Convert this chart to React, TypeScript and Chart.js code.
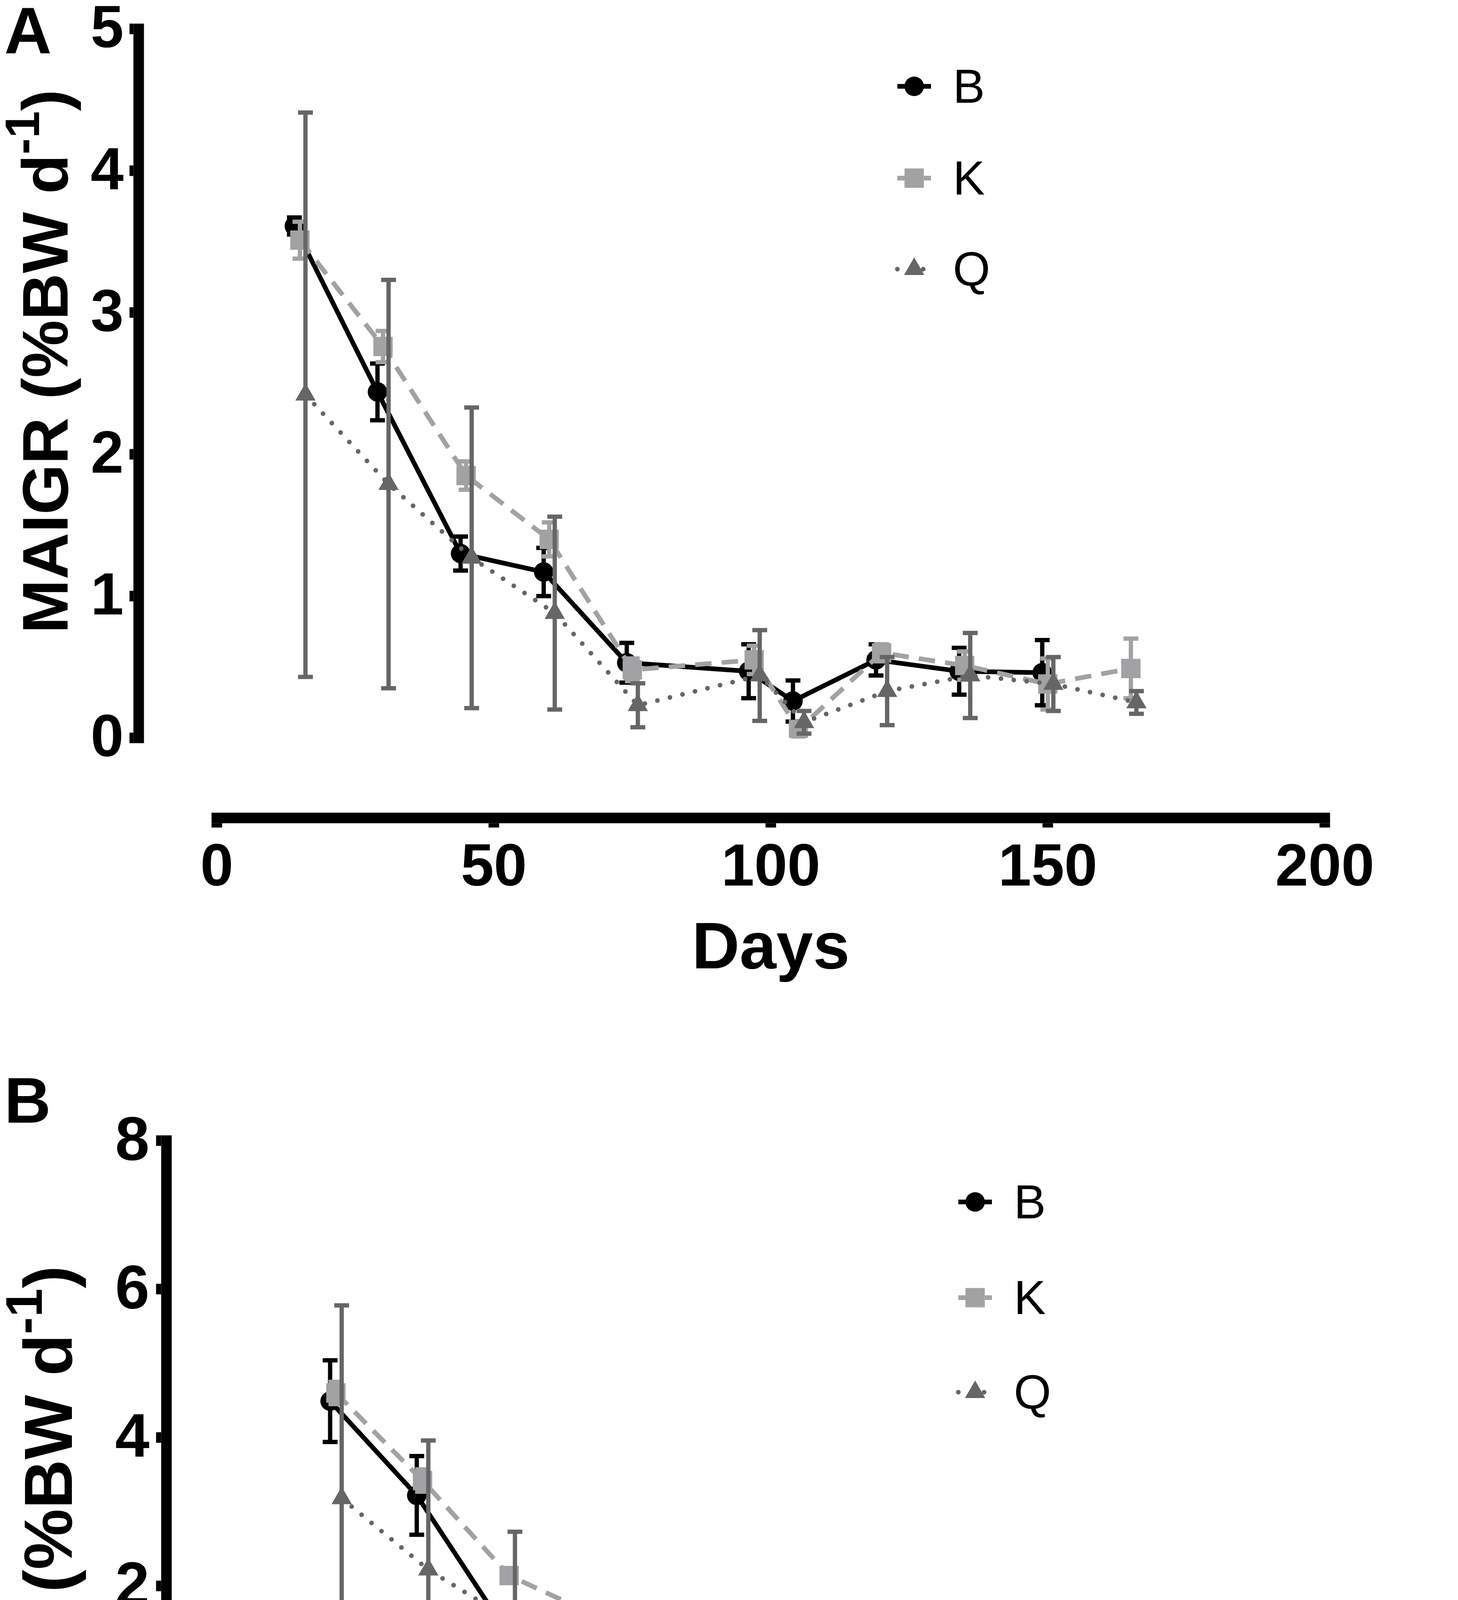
import React, { useEffect, useRef } from "react";
import { Chart, registerables } from "chart.js";

Chart.register(...registerables);

// ---------------- DATA ----------------
// Panel A : MAIGR (%BW d-1)
const A_DAYS_B = [14, 29, 44, 59, 74, 96, 104, 119, 134, 149];
const A_MEAN_B = [3.61, 2.44, 1.3, 1.17, 0.53, 0.47, 0.26, 0.55, 0.47, 0.46];
const A_ERR_B = [0.06, 0.2, 0.12, 0.17, 0.14, 0.19, 0.145, 0.11, 0.165, 0.23];

const A_DAYS_K = [15, 30, 45, 60, 75, 97, 105, 120, 135, 150, 165];
const A_MEAN_K = [3.51, 2.76, 1.85, 1.4, 0.48, 0.55, 0.06, 0.6, 0.51, 0.38, 0.49];
const A_ERR_K = [0.13, 0.11, 0.1, 0.12, 0.08, 0.1, 0.05, 0.06, 0.1, 0.18, 0.21];

const A_DAYS_Q = [16, 31, 46, 61, 76, 98, 106, 121, 136, 151, 166];
const A_MEAN_Q = [2.42, 1.79, 1.27, 0.88, 0.23, 0.44, 0.11, 0.33, 0.44, 0.38, 0.25];
const A_ERR_Q = [1.99, 1.44, 1.06, 0.68, 0.155, 0.32, 0.08, 0.24, 0.3, 0.19, 0.08];

// Panel B : B% (%BW d-1)
const B_DAYS_B = [14, 29, 44, 59, 74, 96, 104, 119, 134, 149];
const B_MEAN_B = [4.49, 3.22, 1.45, 1.29, 0.26, 0.02, -0.1, -0.13, 0.52, -0.13];
const B_ERR_B = [0.55, 0.53, 0.15, 0.2, 0.12, 0.55, 0.34, 0.55, 0.15, 0.45];

const B_DAYS_K = [15, 30, 45, 60, 75, 97, 105, 120, 135, 150, 165];
const B_MEAN_K = [4.6, 3.42, 2.14, 1.6, 0.5, 0.55, 0.05, 0.52, 0.28, 0.4, 0.54];
const B_ERR_K = [0.15, 0.15, 0.1, 0.1, 0.08, 0.1, 0.1, 0.08, 0.25, 0.15, 0.19];

const B_DAYS_Q = [16, 31, 46, 61, 76, 98, 106, 121, 136, 151, 166];
const B_MEAN_Q = [3.18, 2.22, 1.5, 0.96, 0.2, 0.42, 0.1, 0.37, 0.52, 0.4, 0.27];
const B_ERR_Q = [2.6, 1.74, 1.23, 0.72, 0.19, 0.36, 0.06, 0.24, 0.22, 0.2, 0.05];

// Axis ticks / labels
const A_X_TICKS = [0, 50, 100, 150, 200];
const A_Y_TICKS = [0, 1, 2, 3, 4, 5];
const B_X_TICKS = [50, 100, 150, 200];
const B_Y_TICKS = [-2, 0, 2, 4, 6, 8];

const SERIES_NAMES = ["B", "K", "Q"];
const X_TITLE = "Days";
const A_Y_TITLE = ["MAIGR (%BW d", "-1", ")"];
const B_Y_TITLE = ["B% (%BW d", "-1", ")"];

// ---------------- STYLES ----------------
const FONT = "'Liberation Sans', Arial, Helvetica, sans-serif";
const STYLE: Record<string, any> = {
  B: { color: "#000000", dash: [], cap: "butt", point: "circle", r: 25, order: 2 },
  K: { color: "#a2a2a5", dash: [42, 26], cap: "butt", point: "rect", r: 35, order: 1 },
  Q: { color: "#666666", dash: [0.01, 33], cap: "round", point: "triangle", r: 30, order: 0 },
};
const LINE_W = 12;
const EB_W = 11;
const EB_CAP = 38;
const AX_W = 27;

function makeDatasets(days: number[][], means: number[][], errs: number[][]) {
  return SERIES_NAMES.map((name, s) => {
    const st = STYLE[name];
    return {
      label: name,
      data: days[s].map((d, i) => ({ x: d, y: means[s][i] })),
      errors: errs[s],
      borderColor: st.color,
      backgroundColor: st.color,
      borderWidth: LINE_W,
      borderDash: st.dash,
      borderCapStyle: st.cap,
      borderJoinStyle: "round",
      pointStyle: st.point,
      pointRadius: st.r,
      pointBackgroundColor: st.color,
      pointBorderColor: st.color,
      pointBorderWidth: 0,
      tension: 0,
      fill: false,
      order: st.order,
    };
  });
}

function drawMarker(ctx: CanvasRenderingContext2D, style: string, x: number, y: number, r: number, color: string) {
  ctx.fillStyle = color;
  ctx.beginPath();
  if (style === "circle") {
    ctx.arc(x, y, r, 0, Math.PI * 2);
  } else if (style === "rect") {
    const s = r * Math.SQRT1_2;
    ctx.rect(x - s, y - s, 2 * s, 2 * s);
  } else {
    ctx.moveTo(x, y - r);
    ctx.lineTo(x + 0.866 * r, y + 0.5 * r);
    ctx.lineTo(x - 0.866 * r, y + 0.5 * r);
    ctx.closePath();
  }
  ctx.fill();
}

function makePlugin(cfg: any) {
  return {
    id: "prismStyle" + cfg.name,
    beforeDatasetsDraw(chart: any) {
      const ctx: CanvasRenderingContext2D = chart.ctx;
      const xs = chart.scales.x;
      const ys = chart.scales.y;
      ctx.save();
      ctx.fillStyle = "#000";
      // Y axis
      const ax = cfg.yAxisX;
      const yTop = ys.getPixelForValue(cfg.yMax);
      const yBot = ys.getPixelForValue(cfg.yMin);
      ctx.fillRect(ax - AX_W / 2, yTop - AX_W / 2, AX_W, yBot - yTop + AX_W);
      ctx.font = `bold ${cfg.tickFont}px ${FONT}`;
      ctx.textAlign = "right";
      ctx.textBaseline = "alphabetic";
      cfg.yTicks.forEach((v: number) => {
        const py = ys.getPixelForValue(v);
        ctx.fillRect(ax - AX_W / 2 - cfg.yTickLen, py - AX_W / 2, cfg.yTickLen, AX_W);
        ctx.fillText(String(v), ax - AX_W / 2 - cfg.yTickLen - cfg.yLabelGap, py + cfg.yLabelDy);
      });
      // X axis
      const axY = cfg.xAxisAtValue !== undefined ? ys.getPixelForValue(cfg.xAxisAtValue) : cfg.xAxisY;
      const xL = xs.getPixelForValue(cfg.xMin);
      const xR = xs.getPixelForValue(cfg.xMax);
      ctx.fillRect(xL - AX_W / 2, axY - AX_W / 2, xR - xL + AX_W, AX_W);
      ctx.textAlign = "center";
      cfg.xTicks.forEach((v: number) => {
        const px = xs.getPixelForValue(v);
        ctx.fillRect(px - AX_W / 2, axY + AX_W / 2, AX_W, cfg.xTickLen);
        ctx.fillText(String(v), px, axY + cfg.xLabelDy);
      });
      ctx.restore();
    },
    beforeDatasetDraw(chart: any, args: any) {
      const ds = chart.data.datasets[args.index];
      const errs: number[] = ds.errors;
      if (!errs) return;
      const ctx: CanvasRenderingContext2D = chart.ctx;
      const ys = chart.scales.y;
      ctx.save();
      ctx.fillStyle = ds.borderColor;
      args.meta.data.forEach((pt: any, i: number) => {
        const v = ds.data[i].y;
        const e = errs[i];
        const yt = ys.getPixelForValue(v + e);
        const yb = ys.getPixelForValue(v - e);
        const x = pt.x;
        ctx.fillRect(x - EB_W / 2, yt, EB_W, yb - yt);
        ctx.fillRect(x - EB_CAP / 2, yt - EB_W / 2, EB_CAP, EB_W);
        ctx.fillRect(x - EB_CAP / 2, yb - EB_W / 2, EB_CAP, EB_W);
      });
      ctx.restore();
    },
    afterDraw(chart: any) {
      const ctx: CanvasRenderingContext2D = chart.ctx;
      const area = chart.chartArea;
      ctx.save();
      ctx.fillStyle = "#000";
      // X title
      ctx.font = `bold ${cfg.xTitleFont}px ${FONT}`;
      ctx.textAlign = "center";
      ctx.textBaseline = "alphabetic";
      ctx.fillText(X_TITLE, (area.left + area.right) / 2, cfg.xTitleBaseline);
      // Panel letter
      ctx.font = `bold ${cfg.letterFont}px ${FONT}`;
      ctx.textAlign = "left";
      ctx.fillText(cfg.letter, cfg.letterX, cfg.letterBaseline);
      // Y title (rotated, with superscript)
      const segs = cfg.yTitle.map((t: string, i: number) => ({
        t,
        size: i === 1 ? cfg.yTitleSupFont : cfg.yTitleFont,
        rise: i === 1 ? cfg.yTitleRise : 0,
      }));
      let total = 0;
      segs.forEach((s: any) => {
        ctx.font = `bold ${s.size}px ${FONT}`;
        s.w = ctx.measureText(s.t).width;
        total += s.w;
      });
      ctx.save();
      ctx.translate(cfg.yTitleBaselineX, cfg.yTitleEndY + total);
      ctx.rotate(-Math.PI / 2);
      let u = 0;
      segs.forEach((s: any) => {
        ctx.font = `bold ${s.size}px ${FONT}`;
        ctx.textAlign = "left";
        ctx.fillText(s.t, u, -s.rise);
        u += s.w;
      });
      ctx.restore();
      // Legend
      SERIES_NAMES.forEach((name, i) => {
        const st = STYLE[name];
        const cx = cfg.legendX;
        const cy = cfg.legendY[i];
        ctx.save();
        ctx.strokeStyle = st.color;
        ctx.lineWidth = LINE_W;
        ctx.lineCap = st.cap;
        ctx.setLineDash(st.dash);
        ctx.beginPath();
        ctx.moveTo(cx - 43, cy);
        ctx.lineTo(cx + 43, cy);
        ctx.stroke();
        ctx.restore();
        drawMarker(ctx, st.point, cx, cy, st.r, st.color);
        ctx.fillStyle = "#000";
        ctx.font = `${cfg.legendFont}px ${FONT}`;
        ctx.textAlign = "left";
        ctx.fillText(name, cx + 99, cy + 42);
      });
      ctx.restore();
    },
  };
}

const PANEL_A = {
  name: "A",
  width: 3732,
  height: 2600,
  top: 0,
  padding: { left: 555, right: 341, top: 74, bottom: 711 },
  xMin: 0, xMax: 200, yMin: 0, yMax: 5,
  xTicks: A_X_TICKS, yTicks: A_Y_TICKS,
  yAxisX: 355, xAxisY: 2094,
  yTickLen: 10, xTickLen: 11, yLabelGap: 15, yLabelDy: 47, xLabelDy: 173,
  tickFont: 152, xTitleFont: 169, xTitleBaseline: 2479,
  letter: "A", letterFont: 168, letterX: 11, letterBaseline: 137,
  yTitle: A_Y_TITLE, yTitleFont: 166, yTitleSupFont: 125, yTitleRise: 73,
  yTitleBaselineX: 173, yTitleEndY: 229,
  legendX: 2340, legendY: [221, 456, 689], legendFont: 123,
};

const PANEL_B = {
  name: "B",
  width: 3732,
  height: 2358,
  top: 2600,
  padding: { left: 638, right: 137, top: 320, bottom: 138 },
  xMin: 0, xMax: 200, yMin: -2, yMax: 8,
  xTicks: B_X_TICKS, yTicks: B_Y_TICKS,
  yAxisX: 426, xAxisAtValue: 0,
  yTickLen: 13, xTickLen: 12, yLabelGap: 17, yLabelDy: 49, xLabelDy: 265,
  tickFont: 158, xTitleFont: 176, xTitleBaseline: 2309,
  letter: "B", letterFont: 165, letterX: 11, letterBaseline: 274,
  yTitle: B_Y_TITLE, yTitleFont: 175, yTitleSupFont: 132, yTitleRise: 77,
  yTitleBaselineX: 184, yTitleEndY: 640,
  legendX: 2496, legendY: [477, 722, 964], legendFont: 123,
};

function buildConfig(cfg: any, datasets: any[]): any {
  return {
    type: "line",
    data: { datasets },
    options: {
      animation: false,
      responsive: false,
      maintainAspectRatio: false,
      devicePixelRatio: 1,
      events: [],
      layout: { padding: cfg.padding },
      scales: {
        x: { type: "linear", min: cfg.xMin, max: cfg.xMax, display: false },
        y: { type: "linear", min: cfg.yMin, max: cfg.yMax, display: false },
      },
      plugins: { legend: { display: false }, tooltip: { enabled: false } },
    },
    plugins: [makePlugin(cfg)],
  };
}

export default function App() {
  const refA = useRef<HTMLCanvasElement>(null);
  const refB = useRef<HTMLCanvasElement>(null);

  useEffect(() => {
    const dsA = makeDatasets(
      [A_DAYS_B, A_DAYS_K, A_DAYS_Q],
      [A_MEAN_B, A_MEAN_K, A_MEAN_Q],
      [A_ERR_B, A_ERR_K, A_ERR_Q]
    );
    const dsB = makeDatasets(
      [B_DAYS_B, B_DAYS_K, B_DAYS_Q],
      [B_MEAN_B, B_MEAN_K, B_MEAN_Q],
      [B_ERR_B, B_ERR_K, B_ERR_Q]
    );
    const a = new Chart(refA.current as HTMLCanvasElement, buildConfig(PANEL_A, dsA));
    const b = new Chart(refB.current as HTMLCanvasElement, buildConfig(PANEL_B, dsB));
    return () => {
      a.destroy();
      b.destroy();
    };
  }, []);

  const canvasStyle = (p: any): React.CSSProperties => ({
    position: "absolute",
    left: 0,
    top: p.top,
    width: p.width,
    height: p.height,
    display: "block",
  });

  return (
    <div style={{ position: "absolute", left: 0, top: 0, width: 3732, height: 4958, background: "#ffffff" }}>
      <canvas ref={refA} width={PANEL_A.width} height={PANEL_A.height} style={canvasStyle(PANEL_A)} />
      <canvas ref={refB} width={PANEL_B.width} height={PANEL_B.height} style={canvasStyle(PANEL_B)} />
    </div>
  );
}
